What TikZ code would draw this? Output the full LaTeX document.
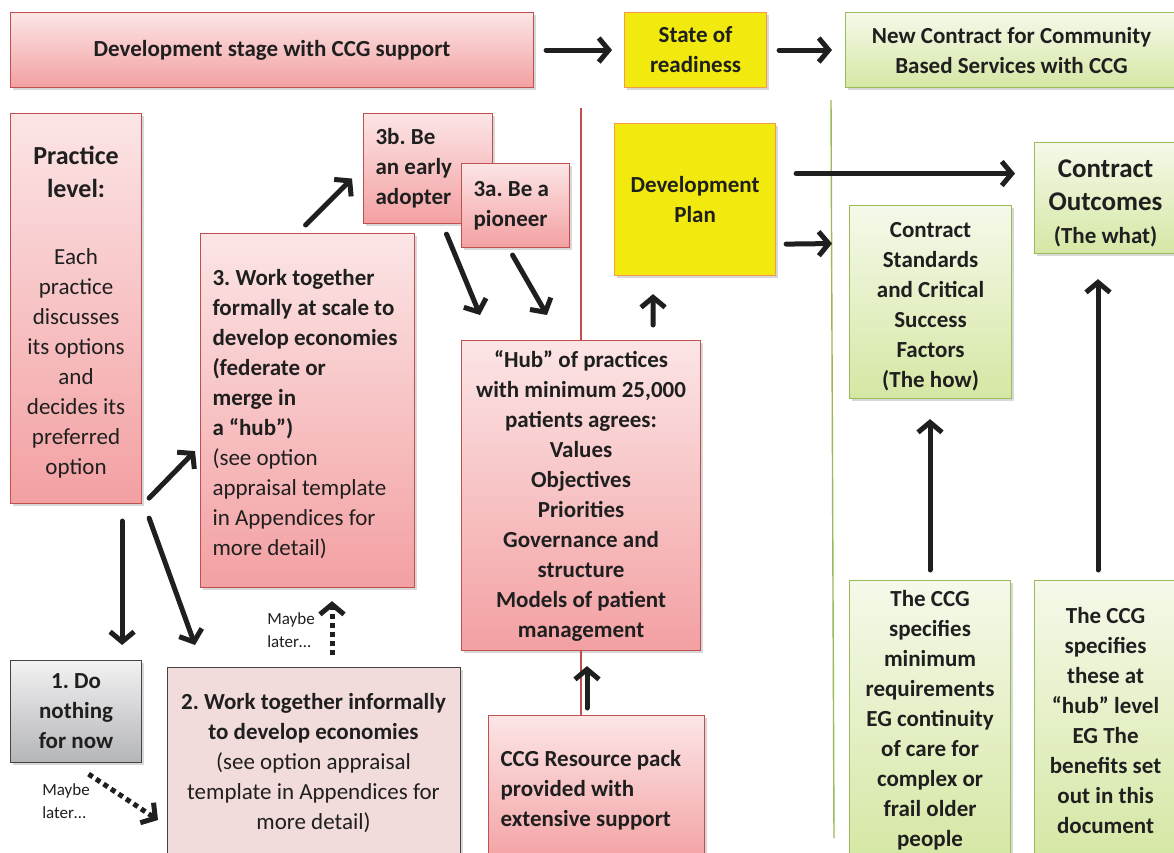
\documentclass[tikz,border=0pt]{standalone}
\usepackage{fontspec}
\setmainfont{Carlito}
\usetikzlibrary{arrows.meta,shadows,calc}
\frenchspacing

\definecolor{ink}{HTML}{1F1F1F}
\definecolor{redline}{HTML}{C0504D}
\definecolor{redtop}{HTML}{FCE5E6}
\definecolor{redbot}{HTML}{F3A0A2}
\definecolor{greenline}{HTML}{9BBB59}
\definecolor{greentop}{HTML}{F5F9EA}
\definecolor{greenbot}{HTML}{D5E7A4}
\definecolor{yellowfill}{HTML}{F2EA0E}
\definecolor{orangeline}{HTML}{F59A4A}
\definecolor{greytop}{HTML}{F2F2F3}
\definecolor{greybot}{HTML}{B4B5B8}
\definecolor{greyline}{HTML}{444444}
\definecolor{pinkflat}{HTML}{F2DCDB}

\tikzset{
  base/.style={anchor=north west, inner sep=0pt, line width=1.1pt,
    font=\fontsize{23}{30}\selectfont\bfseries, text=ink,
    drop shadow={shadow xshift=2.5pt, shadow yshift=-2.5pt, opacity=0.3, fill=black!50}},
  redbox/.style={base, draw=redline, top color=redtop, bottom color=redbot},
  greenbox/.style={base, draw=greenline, top color=greentop, bottom color=greenbot},
  yellowbox/.style={base, draw=orangeline, fill=yellowfill},
  greybox/.style={base, draw=greyline, top color=greytop, bottom color=greybot},
  pinkbox/.style={base, draw=greyline, fill=pinkflat},
  arr/.style={-{Straight Barb[length=10pt,width=24pt]}, line width=5pt,
    line cap=round, line join=round, draw=ink},
  dotarr/.style={arr, line cap=butt, dash pattern=on 5pt off 4pt},
  note/.style={font=\fontsize{17}{23}\selectfont, align=left, text=ink, inner sep=0pt},
  divider/.style={line width=1.2pt},
}

\begin{document}
\begin{tikzpicture}[x=1pt,y=-1pt]
\clip (0,0) rectangle (1174,853);
\fill[white] (0,0) rectangle (1174,853);

% divider lines
\coordinate (rtop) at (581,108);
\coordinate (gtop) at (831,100);
\coordinate (gbot) at (834,838);
\draw[divider, draw=greenline, line width=1.4pt] (gtop) -- (gbot);

% top row
\node[redbox, minimum width=523pt, minimum height=75pt, align=center] (dev) at (10,12)
  {Development stage with CCG support};
\node[yellowbox, minimum width=142pt, minimum height=75pt, align=center] (ready) at (624,12)
  {State of\\readiness};
\node[greenbox, minimum width=332pt, minimum height=75pt, align=center] (newc) at (845,12)
  {New Contract for Community\\Based Services with CCG};

% practice level
\node[redbox, minimum width=131pt, minimum height=390pt, align=center] (prac) at (10,113)
  {\fontsize{26}{30}\selectfont\rule{0pt}{26pt}Practice\\[3pt]
   \fontsize{26}{30}\selectfont level:\\[37pt]
   \mdseries Each\\ \mdseries practice\\ \mdseries discusses\\ \mdseries its options\\
   \mdseries and\\ \mdseries decides its\\ \mdseries preferred\\ \mdseries option};

% options 3, 3b, 3a
\node[redbox, text width=190pt, inner xsep=12pt, minimum height=354pt, align=flush left] (b3) at (200,233)
  {\rule{0pt}{23pt}3. Work together\\ formally at scale to\\ develop economies\\ (federate or\\ merge in\\ a “hub”)\\
   \mdseries (see option\\ \mdseries appraisal template\\ \mdseries in Appendices for\\ \mdseries more detail)};
\node[redbox, text width=105pt, inner xsep=12pt, minimum height=110pt, align=flush left] (b3b) at (363,113)
  {3b. Be\\ an early\\ adopter};
\node[redbox, text width=84pt, inner xsep=12pt, minimum height=84pt, align=flush left] (b3a) at (461,163)
  {\mbox{3a. Be a}\\ pioneer};

% hub
\draw[divider, draw=redline] (rtop) -- (rtop |- 0,340);
\node[redbox, minimum width=239pt, minimum height=310pt, align=center] (hub) at (461,340)
  {“Hub” of practices\\ with minimum 25,000\\ patients agrees:\\ Values\\ Objectives\\ Priorities\\
   Governance and\\ structure\\ Models of patient\\ management};

% development plan
\node[yellowbox, minimum width=161pt, minimum height=152pt, align=center] (devplan) at (614,123)
  {Development\\ Plan};

% contract side
\node[greenbox, minimum width=162pt, minimum height=193pt, align=center] (cstd) at (849,205)
  {\rule{0pt}{25pt}Contract\\ Standards\\ and Critical\\ Success\\ Factors\\ (The how)};
\node[greenbox, minimum width=142pt, minimum height=111pt, align=center] (cout) at (1034,142)
  {\fontsize{27}{32}\selectfont\rule{0pt}{29pt}Contract\\[3pt] \fontsize{27}{32}\selectfont Outcomes\\[3pt] (The what)};
\node[greenbox, minimum width=161pt, minimum height=280pt, align=center] (ccgmin) at (849,580)
  {The CCG\\ specifies\\ minimum\\ requirements\\ EG continuity\\ of care for\\ complex or\\ frail older\\ people};
\node[greenbox, minimum width=142pt, minimum height=280pt, align=center] (ccgthese) at (1034,580)
  {The CCG\\ specifies\\ these at\\ “hub” level\\ EG The\\ benefits set\\ out in this\\ document};

% options 1 and 2
\node[greybox, minimum width=131pt, minimum height=102pt, align=center] (none) at (10,660)
  {1. Do\\ nothing\\ for now};
\node[pinkbox, minimum width=293pt, minimum height=200pt] (b2) at (167,667) {};
\node[anchor=north, inner sep=0pt, align=center, text=ink, font=\fontsize{23}{30}\selectfont] (b2text) at (313.5,693)
  {\bfseries 2. Work together informally\\ \bfseries to develop economies\\ (see option appraisal\\
   template in Appendices for\\ more detail)};

% resource pack
\draw[divider, draw=redline] (rtop |- 0,650) -- (rtop |- 0,715);
\node[redbox, text width=192pt, inner xsep=12pt, minimum height=150pt, align=flush left] (res) at (488,715)
  {CCG Resource pack\\ provided with\\ extensive support};

% labels
\node[note] (ml1) at (291,630) {Maybe\\ later…};
\node[note] (ml2) at (66,801) {Maybe\\ later…};

% connectors
\draw[arr] ($(dev.east)+(12,0)$) -- ($(ready.west)+(-12,0)$);
\draw[arr] ($(ready.east)+(12,0)$) -- ($(newc.west)+(-13,0)$);
\draw[arr] ($(prac.south east)+(7,-6)$) -- ($(b3.south west)+(-5,-137)$);
\draw[arr] ($(prac.south east)+(-20,17)$) -- ($(none.north east)+(-20,-15)$);
\draw[arr] ($(prac.south east)+(7,14)$) -- ($(b2.north west)+(28,-22)$);
\draw[arr] ($(b3.north)+(-2,-8)$) -- ($(b3b.west)+(-11,10)$);
\draw[arr] ($(b3b.south)+(18.5,10)$) -- ($(hub.north west)+(19,-25)$);
\draw[arr] ($(b3a.south)+(-3,7)$) -- ($(hub.north west)+(86,-25)$);
\draw[arr] ($(hub.north east)+(-48,-15)$) -- ($(devplan.south)+(-42,18)$);
\draw[arr] ($(devplan.east)+(20,-26)$) -- ($(cout.west)+(-19,-24.5)$);
\draw[arr] ($(devplan.south east)+(10,-32)$) -- ($(cstd.west)+(-17,-58.5)$);
\draw[arr] ($(res.north west)+(99,-7)$) -- ($(hub.south west)+(126,15)$);
\draw[arr] ($(ccgmin.north west)+(81,-10)$) -- ($(cstd.south west)+(81,20)$);
\draw[arr] ($(ccgthese.north west)+(64,-10)$) -- ($(cout.south west)+(64,25)$);
\draw[dotarr] ($(none.south)+(12.5,11)$) -- ($(b2.north west)+(-9,153)$);
\draw[dotarr] ($(b2.north west)+(165,-12)$) -- ($(b3.south west)+(132,13)$);
\end{tikzpicture}
\end{document}
